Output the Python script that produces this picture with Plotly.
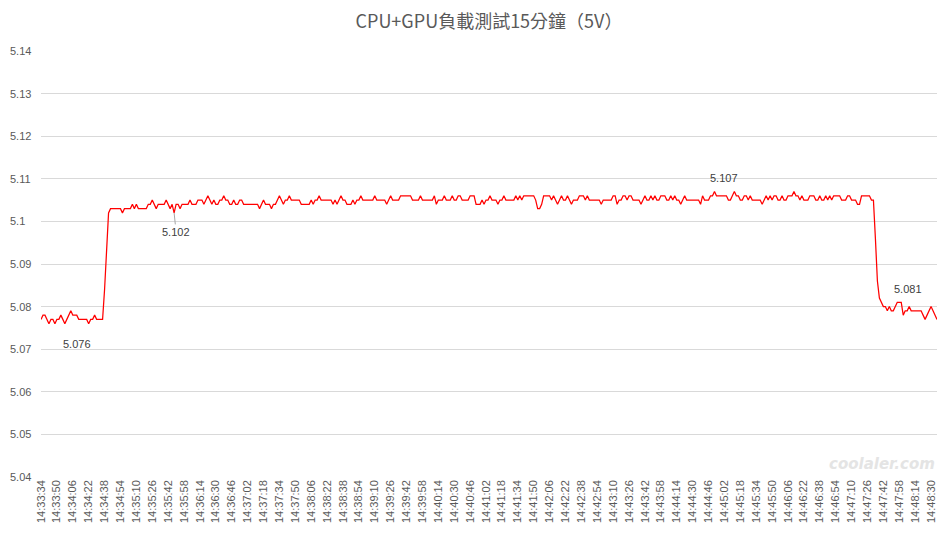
import plotly.graph_objects as go
from datetime import datetime, timedelta

# ---------------- data ----------------
START_TIME = "14:33:34"
STEP_SECONDS = 2

v_low = [5.077, 5.078, 5.078, 5.077, 5.076, 5.077, 5.077, 5.076, 5.077, 5.077,
         5.078, 5.077, 5.076, 5.077, 5.078, 5.079, 5.078, 5.078, 5.078, 5.077,
         5.077, 5.077, 5.077, 5.077, 5.076, 5.077, 5.077, 5.078, 5.077, 5.077,
         5.077, 5.077]
v_rise = [5.084, 5.095]
v_plateau_a = [5.102, 5.103, 5.103, 5.103, 5.103, 5.103, 5.103, 5.102, 5.103, 5.103,
               5.103, 5.103, 5.104, 5.103, 5.104, 5.103, 5.103, 5.103, 5.103, 5.103,
               5.104, 5.104, 5.105, 5.104, 5.103, 5.104, 5.104, 5.104, 5.104, 5.105,
               5.104, 5.103, 5.104, 5.102, 5.104, 5.104, 5.103, 5.104, 5.104, 5.104,
               5.104, 5.105, 5.104, 5.104, 5.104, 5.105, 5.105, 5.105, 5.104, 5.105,
               5.106, 5.105, 5.104, 5.105, 5.104, 5.104, 5.105, 5.105, 5.106, 5.105,
               5.105, 5.104, 5.104, 5.105, 5.104, 5.104, 5.105, 5.105, 5.104, 5.104,
               5.104, 5.104, 5.104, 5.104, 5.104, 5.104, 5.103, 5.104, 5.105, 5.104,
               5.104, 5.104, 5.103, 5.104, 5.104, 5.105, 5.106, 5.105, 5.104, 5.105,
               5.105, 5.106, 5.105, 5.105, 5.105, 5.105, 5.105, 5.104, 5.104, 5.104,
               5.104, 5.104]
v_plateau_b = [5.105, 5.104, 5.105, 5.105, 5.106, 5.105, 5.105, 5.105, 5.105, 5.105,
               5.105, 5.104, 5.105, 5.104, 5.105, 5.106, 5.105, 5.105, 5.104, 5.104,
               5.104, 5.105, 5.104, 5.105, 5.105, 5.106, 5.105, 5.105, 5.105, 5.105,
               5.105, 5.105, 5.106, 5.105, 5.105, 5.105, 5.105, 5.105, 5.104, 5.105,
               5.106, 5.105, 5.105, 5.105, 5.105, 5.106, 5.106, 5.106, 5.106, 5.106,
               5.106, 5.105, 5.105, 5.105, 5.105, 5.106, 5.105, 5.105, 5.105, 5.105,
               5.105, 5.105, 5.106, 5.104, 5.105, 5.105, 5.105, 5.106, 5.105, 5.105,
               5.105, 5.106, 5.105, 5.105, 5.106, 5.106, 5.105, 5.105, 5.105, 5.105,
               5.106, 5.106, 5.106, 5.104, 5.104, 5.104, 5.105, 5.104, 5.105, 5.105,
               5.106, 5.105, 5.105, 5.105, 5.104, 5.105, 5.105, 5.106, 5.105, 5.105,
               5.105, 5.105, 5.105, 5.106, 5.105, 5.106, 5.105, 5.106, 5.106, 5.106,
               5.106, 5.106, 5.106, 5.105, 5.103, 5.103, 5.104, 5.106, 5.106, 5.106,
               5.106, 5.105, 5.106, 5.105, 5.104, 5.105, 5.106, 5.105, 5.105, 5.106,
               5.105, 5.104, 5.105, 5.105, 5.105, 5.106, 5.106, 5.106, 5.105, 5.106,
               5.105, 5.105, 5.105, 5.105, 5.105, 5.105, 5.104]
v_plateau_c = [5.105, 5.105, 5.105, 5.105, 5.105, 5.106, 5.106, 5.104, 5.105, 5.105,
               5.106, 5.106, 5.105, 5.106, 5.106, 5.105, 5.105, 5.105, 5.105, 5.104,
               5.105, 5.106, 5.105, 5.105, 5.106, 5.105, 5.106, 5.105, 5.105, 5.106,
               5.106, 5.106, 5.105, 5.105, 5.106, 5.105, 5.106, 5.105, 5.105, 5.104,
               5.105, 5.106, 5.105, 5.105, 5.105, 5.105, 5.105, 5.105, 5.105, 5.104,
               5.106, 5.105, 5.105, 5.105, 5.106, 5.106, 5.107, 5.106, 5.106, 5.106,
               5.106, 5.106, 5.106, 5.105, 5.105, 5.106, 5.107, 5.106, 5.106, 5.105,
               5.105, 5.106, 5.106, 5.105, 5.106, 5.105, 5.105, 5.105, 5.105, 5.105,
               5.104, 5.105, 5.106, 5.105, 5.106, 5.105, 5.106, 5.106, 5.105, 5.105,
               5.106, 5.105, 5.105, 5.106, 5.106, 5.106, 5.107, 5.106, 5.106, 5.105,
               5.106, 5.105, 5.105, 5.105, 5.106, 5.106, 5.106, 5.105, 5.105, 5.106,
               5.105, 5.105, 5.106, 5.105, 5.106, 5.105, 5.106, 5.106, 5.106, 5.106,
               5.105, 5.105, 5.105, 5.106, 5.106, 5.105, 5.105, 5.105, 5.104, 5.104,
               5.106, 5.106, 5.106, 5.106, 5.106, 5.105, 5.105]
v_drop = [5.096, 5.086, 5.082]
v_tail = [5.081, 5.080, 5.080, 5.079, 5.080, 5.079, 5.079, 5.080, 5.081, 5.081,
          5.081, 5.078, 5.079, 5.079, 5.080, 5.079, 5.079, 5.079, 5.079, 5.079,
          5.079, 5.078, 5.077, 5.078, 5.079, 5.080, 5.079, 5.078, 5.077]

values = v_low + v_rise + v_plateau_a + v_plateau_b + v_plateau_c + v_drop + v_tail

# timestamps of the samples (regular 2-second logging)
t0 = datetime.strptime(START_TIME, "%H:%M:%S")
times = [(t0 + timedelta(seconds=STEP_SECONDS * k)).strftime("%H:%M:%S") for k in range(len(values))]
idx = list(range(len(values)))
LABEL_EVERY = 8
x_tickvals = idx[::LABEL_EVERY]
x_ticktext = times[::LABEL_EVERY]

y_tickvals = [5.04, 5.05, 5.06, 5.07, 5.08, 5.09, 5.10, 5.11, 5.12, 5.13, 5.14]
y_ticktext = ["5.04", "5.05", "5.06", "5.07", "5.08", "5.09", "5.1", "5.11", "5.12", "5.13", "5.14"]

TITLE = "CPU+GPU負載測試15分鐘（5V）"

# labelled points: (index, text, dx, dy, leader line)
point_labels = [(12, "5.076", 12, 20, True),
                (67, "5.102", 2, 19, True),
                (339, "5.107", 10, -14, False),
                (432, "5.081", 9, -13, False)]

# ---------------- figure ----------------
TXT = "#595959"
FONT = "Liberation Sans, Arial, sans-serif"
fig = go.Figure()
fig.add_trace(go.Scatter(x=idx, y=values, mode="lines",
                         line=dict(color="#FF0000", width=1.25),
                         customdata=times, hovertemplate="%{customdata}: %{y}<extra></extra>",
                         showlegend=False))

L, R, T, B = 41, 15, 51, 60
W, H = 952, 537
pw = W - L - R

annotations = []
for v, t in zip(y_tickvals, y_ticktext):
    annotations.append(dict(xref="paper", yref="y", x=-(L - 8) / pw, y=v, text=t,
                            showarrow=False, xanchor="left", yanchor="middle",
                            font=dict(size=11, color=TXT, family=FONT)))
for i, t, dx, dy, lead in point_labels:
    if lead:
        annotations.append(dict(x=i, y=values[i], xref="x", yref="y", text=t,
                                showarrow=True, arrowhead=0, arrowwidth=1, arrowcolor="#A6A6A6",
                                ax=dx, ay=dy, standoff=0,
                                font=dict(size=11, color="#404040", family=FONT)))
    else:
        annotations.append(dict(x=i, y=values[i], xref="x", yref="y", text=t,
                                showarrow=False, xshift=dx, yshift=-dy,
                                font=dict(size=11, color="#404040", family=FONT)))
# watermark
annotations.append(dict(xref="paper", yref="paper", x=1.0, y=0.005, xanchor="right", yanchor="bottom",
                        text="<b><i>coolaler.com</i></b>", showarrow=False,
                        font=dict(size=15, color="#E4E4E4", family="DejaVu Sans, sans-serif")))

fig.update_layout(
    width=W, height=H,
    margin=dict(l=L, r=R, t=T, b=B, autoexpand=False),
    paper_bgcolor="white", plot_bgcolor="white",
    title=dict(text=TITLE, x=0.5, xref="paper", xanchor="center", y=1 - 22 / H, yanchor="middle",
               font=dict(size=18, color=TXT, family="Noto Sans CJK TC, sans-serif")),
    xaxis=dict(range=[0, len(values) - 1], tickmode="array", tickvals=x_tickvals, ticktext=x_ticktext,
               tickangle=-90, showgrid=False, zeroline=False, showline=False, ticks="",
               tickfont=dict(size=11, color=TXT, family=FONT),
               automargin=False),
    yaxis=dict(range=[5.04, 5.14], tickmode="array", tickvals=y_tickvals, ticktext=y_ticktext,
               showticklabels=False, showgrid=True, gridcolor="#D9D9D9", gridwidth=1,
               zeroline=False, showline=False, ticks="", automargin=False),
    annotations=annotations,
    hovermode="closest",
)

fig.write_html("out.html", config={"displayModeBar": False},
               post_script="document.body.style.margin='0';document.body.style.overflow='hidden';")
